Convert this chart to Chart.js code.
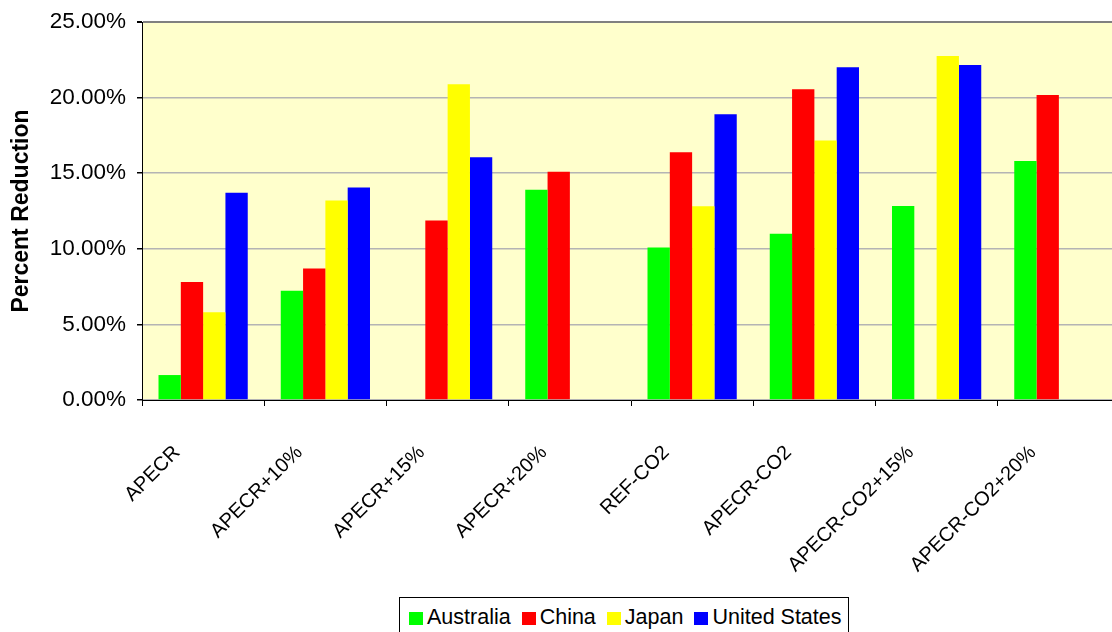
<!DOCTYPE html>
<html>
<head>
<meta charset="utf-8">
<title>Percent Reduction</title>
<script src="https://cdn.jsdelivr.net/npm/chart.js@4.4.1/dist/chart.umd.min.js"></script>
<style>
  html, body { margin: 0; padding: 0; background: #fff; overflow: hidden; }
  #wrap { position: relative; width: 1120px; height: 632px; }
  #legend {
    position: absolute; left: 399px; top: 597px; width: 450px; height: 44px;
    border: 1px solid #000; box-sizing: border-box; background: #fff;
    font: 21.5px "Liberation Sans", Arial, sans-serif; color: #000;
    padding: 7px 0 0 9px; white-space: nowrap;
  }
  #legend span.item { display: inline-block; margin-right: 11px; }
  #legend i { display: inline-block; width: 14px; height: 13px; margin-right: 4px; vertical-align: -1px; }
</style>
</head>
<body>
<div id="wrap">
  <canvas id="chart" width="1120" height="632"></canvas>
  <div id="legend"></div>
</div>
<script>
const scenarios = ['APECR', 'APECR+10%', 'APECR+15%', 'APECR+20%', 'REF-CO2', 'APECR-CO2', 'APECR-CO2+15%', 'APECR-CO2+20%'];
const australia = [1.65, 7.23, null, 13.9, 10.08, 11.0, 12.83, 15.8];
const china = [7.8, 8.69, 11.87, 15.1, 16.38, 20.56, null, 20.17];
const japan = [5.8, 13.2, 20.89, null, 12.82, 17.17, 22.75, null];
const unitedStates = [13.7, 14.06, 16.05, null, 18.9, 22.0, 22.16, null];
const yTicks = [0, 5, 10, 15, 20, 25];

const countries = [
  { label: 'Australia', data: australia, color: '#00ff00' },
  { label: 'China', data: china, color: '#ff0000' },
  { label: 'Japan', data: japan, color: '#ffff00' },
  { label: 'United States', data: unitedStates, color: '#0000ff' }
];

const font = '"Liberation Sans", Arial, sans-serif';

// pale yellow plot background
const plotBg = {
  id: 'plotBg',
  beforeDraw(chart) {
    const a = chart.chartArea, ctx = chart.ctx;
    ctx.save();
    ctx.fillStyle = '#ffffcc';
    ctx.fillRect(a.left, a.top, a.right - a.left, a.bottom - a.top);
    ctx.restore();
  }
};

new Chart(document.getElementById('chart'), {
  type: 'bar',
  data: {
    labels: scenarios,
    datasets: countries.map(c => ({
      label: c.label,
      data: c.data,
      backgroundColor: c.color,
      borderWidth: 0,
      barPercentage: 1,
      categoryPercentage: 0.73
    }))
  },
  options: {
    responsive: false,
    animation: false,
    layout: { padding: { top: 22, right: 0, left: 0, bottom: 0 } },
    plugins: {
      legend: { display: false },
      tooltip: { enabled: false }
    },
    scales: {
      x: {
        grid: { drawOnChartArea: false, drawTicks: true, tickLength: 6, tickColor: '#000', offset: true },
        border: { color: '#000', width: 1 },
        ticks: {
          color: '#000',
          font: { family: font, size: 20 },
          maxRotation: 45, minRotation: 45,
          padding: 35,
          labelOffset: -26,
          autoSkip: false
        },
        afterFit(scale) {
          scale.height = 232;
          scale.paddingRight = 0;
          scale.paddingLeft = 0;
        }
      },
      y: {
        min: 0, max: 25,
        afterBuildTicks(scale) { scale.ticks = yTicks.map(v => ({ value: v })); },
        grid: {
          color: ctx => ctx.tick && ctx.tick.value === 25 ? '#808080' : '#b4b4b4',
          lineWidth: ctx => ctx.tick && ctx.tick.value === 25 ? 2 : 1.5,
          tickColor: '#000', tickLength: 5
        },
        border: { color: '#000', width: 1 },
        ticks: {
          color: '#000',
          font: { family: font, size: 22.5 },
          padding: 11,
          callback: v => v.toFixed(2) + '%'
        },
        title: {
          display: true,
          text: 'Percent Reduction',
          color: '#000',
          font: { family: font, size: 23, weight: 'bold' },
          padding: { top: 8, bottom: 0 }
        },
        afterFit(scale) {
          scale.width = 142;
          scale.paddingTop = 0;
          scale.paddingBottom = 0;
        }
      }
    }
  },
  plugins: [plotBg]
});

// legend box built from the same series
document.getElementById('legend').innerHTML = countries
  .map(c => `<span class="item"><i style="background:${c.color}"></i>${c.label}</span>`)
  .join('');
</script>
</body>
</html>
